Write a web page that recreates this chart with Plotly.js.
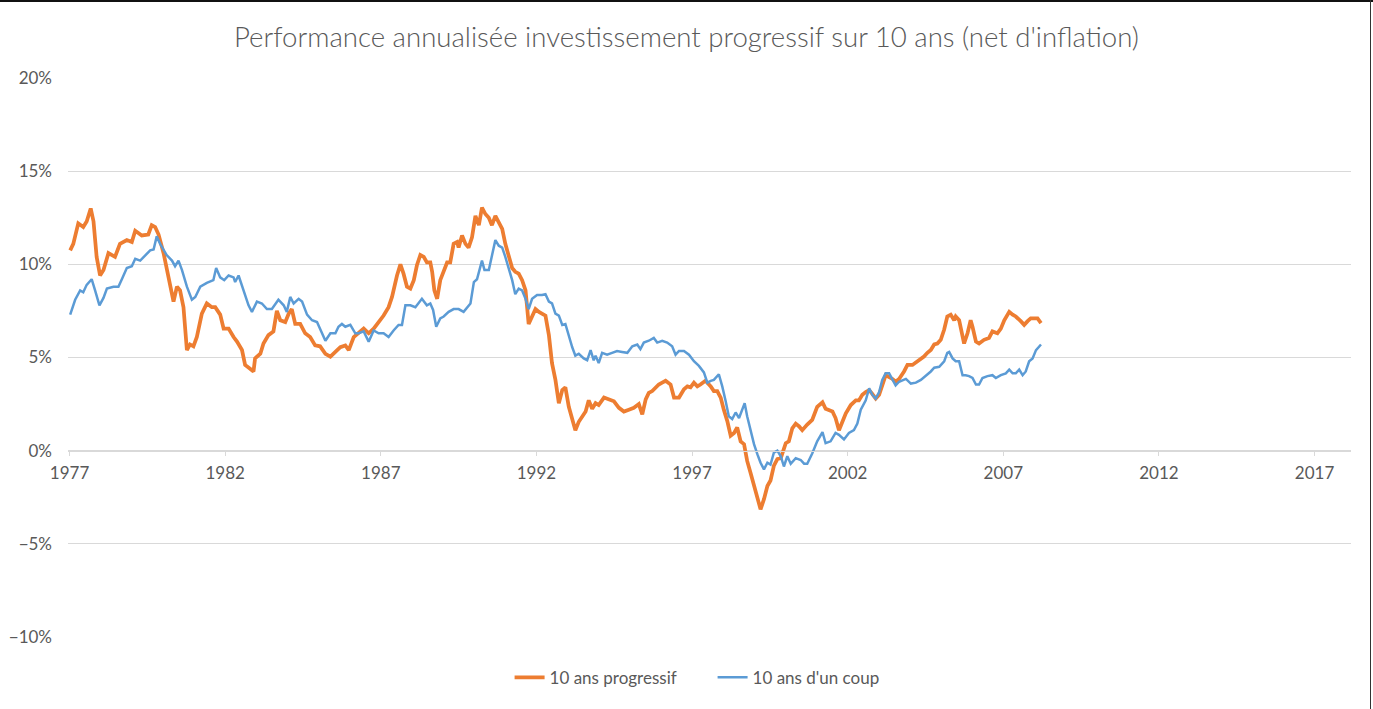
<!DOCTYPE html>
<html>
<head>
<meta charset="utf-8">
<script src="https://cdn.plot.ly/plotly-3.0.1.min.js"></script>
<style>
  body { margin: 0; background: #fff; }
  #myDiv { width: 1373px; height: 709px; }
  .edge-top { position: absolute; left: 0; top: 0; width: 1373px; height: 2px; background: #111; }
  .edge-right { position: absolute; left: 1370px; top: 0; width: 1px; height: 709px; background: #333; }
</style>
</head>
<body>
<div id="myDiv"></div>
<div class="edge-top"></div>
<div class="edge-right"></div>
<script>
// 10 ans progressif (orange)
var progYears = [
  1977.02,1977.12,1977.28,1977.44,1977.55,1977.68,1977.77,1977.87,1977.98,1978.09,
  1978.25,1978.46,1978.62,1978.84,1979.00,1979.11,1979.32,1979.53,1979.64,1979.75,
  1979.86,1980.02,1980.18,1980.34,1980.45,1980.55,1980.66,1980.77,1980.87,1980.98,
  1981.09,1981.25,1981.41,1981.57,1981.68,1981.84,1981.95,1982.11,1982.27,1982.38,
  1982.54,1982.64,1982.80,1982.91,1982.96,1983.13,1983.23,1983.39,1983.55,1983.66,
  1983.77,1983.93,1984.04,1984.14,1984.25,1984.41,1984.57,1984.73,1984.89,1985.05,
  1985.22,1985.38,1985.54,1985.70,1985.86,1985.97,1986.13,1986.29,1986.45,1986.61,
  1986.77,1986.93,1987.09,1987.25,1987.36,1987.52,1987.63,1987.73,1987.84,1987.95,
  1988.06,1988.16,1988.27,1988.38,1988.48,1988.59,1988.65,1988.72,1988.81,1988.91,
  1989.02,1989.13,1989.23,1989.34,1989.45,1989.50,1989.61,1989.72,1989.82,1989.93,
  1990.04,1990.15,1990.25,1990.36,1990.47,1990.57,1990.68,1990.79,1990.90,1991.00,
  1991.11,1991.22,1991.32,1991.43,1991.54,1991.65,1991.75,1991.86,1991.97,1992.08,
  1992.18,1992.29,1992.40,1992.50,1992.61,1992.72,1992.83,1992.93,1993.04,1993.15,
  1993.25,1993.36,1993.47,1993.58,1993.68,1993.79,1993.90,1994.00,1994.17,1994.33,
  1994.49,1994.65,1994.81,1994.97,1995.13,1995.29,1995.40,1995.51,1995.61,1995.72,
  1995.83,1995.93,1996.04,1996.15,1996.31,1996.42,1996.58,1996.74,1996.85,1996.95,
  1997.06,1997.17,1997.27,1997.43,1997.60,1997.70,1997.81,1997.92,1998.02,1998.13,
  1998.24,1998.35,1998.45,1998.56,1998.67,1998.77,1998.88,1998.99,1999.10,1999.20,
  1999.31,1999.42,1999.52,1999.63,1999.74,1999.85,2000.01,2000.11,2000.22,2000.33,
  2000.44,2000.54,2000.70,2000.86,2001.02,2001.19,2001.29,2001.40,2001.51,2001.61,
  2001.72,2001.83,2001.94,2002.10,2002.26,2002.36,2002.47,2002.58,2002.69,2002.79,
  2002.90,2003.01,2003.11,2003.22,2003.33,2003.44,2003.54,2003.65,2003.81,2003.92,
  2004.08,2004.24,2004.35,2004.45,2004.56,2004.67,2004.78,2004.88,2004.99,2005.10,
  2005.20,2005.31,2005.42,2005.47,2005.58,2005.63,2005.74,2005.85,2005.95,2006.01,
  2006.12,2006.22,2006.38,2006.54,2006.65,2006.81,2006.92,2007.03,2007.19,2007.30,
  2007.40,2007.56,2007.67,2007.78,2007.88,2007.99,2008.10,2008.21
];
var progValues = [
  10.75,11.1,12.2,12.0,12.3,13.0,12.3,10.4,9.4,9.7,
  10.6,10.4,11.1,11.3,11.2,11.8,11.55,11.6,12.1,12.0,
  11.6,10.6,9.3,8.0,8.8,8.6,7.7,5.4,5.7,5.6,
  6.1,7.35,7.9,7.7,7.7,7.3,6.55,6.55,6.1,5.85,
  5.4,4.6,4.4,4.25,4.95,5.2,5.75,6.2,6.4,7.5,
  7.0,6.9,7.35,7.6,6.8,6.8,6.3,6.1,5.65,5.6,
  5.2,5.05,5.3,5.55,5.65,5.4,6.1,6.3,6.55,6.3,
  6.55,6.9,7.25,7.7,8.25,9.4,10.0,9.5,8.8,8.7,
  9.15,9.95,10.5,10.4,10.1,10.1,9.6,8.6,8.15,9.15,
  9.7,10.1,10.1,11.1,11.2,10.9,11.55,11.1,10.9,11.45,
  12.6,12.1,13.05,12.7,12.5,12.1,12.6,12.25,11.9,11.1,
  10.5,9.8,9.6,9.5,9.15,8.6,6.8,7.2,7.6,7.45,
  7.35,7.25,6.2,4.7,3.8,2.55,3.25,3.4,2.35,1.65,
  1.1,1.55,1.8,2.1,2.7,2.25,2.55,2.45,2.85,2.75,
  2.65,2.3,2.1,2.2,2.3,2.5,1.95,2.75,3.1,3.2,
  3.4,3.55,3.65,3.75,3.55,2.85,2.85,3.3,3.45,3.4,
  3.65,3.45,3.55,3.75,3.45,3.2,3.2,2.85,2.2,1.6,
  0.8,0.95,1.25,0.5,0.35,-0.55,-1.2,-1.9,-2.45,-3.15,
  -2.6,-1.9,-1.6,-0.8,-0.45,-0.4,0.4,0.5,1.2,1.45,
  1.3,1.1,1.4,1.65,2.35,2.6,2.25,2.2,2.1,1.75,
  1.1,1.55,2.0,2.45,2.7,2.7,3.0,3.15,3.25,3.05,
  2.8,3.0,3.45,4.05,3.95,3.85,3.7,3.85,4.25,4.6,
  4.6,4.8,4.9,5.05,5.25,5.4,5.7,5.75,5.95,6.5,
  7.2,7.3,7.0,7.2,7.0,6.65,5.75,6.3,7.0,6.65,
  5.85,5.75,5.95,6.05,6.4,6.3,6.55,7.0,7.45,7.3,
  7.2,6.95,6.75,6.95,7.1,7.1,7.1,6.85
];

// 10 ans d'un coup (bleu)
var coupYears = [
  1977.02,1977.18,1977.34,1977.44,1977.55,1977.71,1977.82,1977.96,1978.09,1978.20,
  1978.41,1978.57,1978.68,1978.84,1979.00,1979.11,1979.27,1979.43,1979.59,1979.70,
  1979.80,1979.91,1980.02,1980.12,1980.29,1980.39,1980.50,1980.61,1980.77,1980.93,
  1981.04,1981.20,1981.41,1981.62,1981.71,1981.84,1981.97,1982.11,1982.27,1982.32,
  1982.43,1982.59,1982.75,1982.86,1983.02,1983.18,1983.34,1983.50,1983.71,1983.88,
  1983.98,1984.09,1984.20,1984.36,1984.47,1984.63,1984.79,1984.95,1985.11,1985.22,
  1985.38,1985.54,1985.64,1985.75,1985.86,1986.02,1986.18,1986.29,1986.45,1986.61,
  1986.77,1986.93,1987.09,1987.25,1987.41,1987.57,1987.68,1987.79,1987.95,1988.11,
  1988.32,1988.48,1988.59,1988.68,1988.78,1988.91,1989.02,1989.18,1989.34,1989.50,
  1989.66,1989.77,1989.88,1989.99,1990.09,1990.25,1990.33,1990.47,1990.57,1990.68,
  1990.79,1990.90,1991.00,1991.11,1991.22,1991.32,1991.43,1991.54,1991.65,1991.75,
  1991.86,1992.02,1992.18,1992.29,1992.40,1992.50,1992.61,1992.72,1992.83,1992.93,
  1993.04,1993.15,1993.25,1993.36,1993.52,1993.63,1993.74,1993.84,1993.90,1994.00,
  1994.11,1994.27,1994.43,1994.59,1994.75,1994.92,1995.08,1995.24,1995.34,1995.45,
  1995.61,1995.77,1995.88,1996.04,1996.20,1996.36,1996.47,1996.58,1996.74,1996.90,
  1997.06,1997.22,1997.38,1997.49,1997.60,1997.70,1997.86,1997.97,1998.08,1998.18,
  1998.29,1998.40,1998.51,1998.61,1998.69,1998.77,1998.88,1998.99,1999.10,1999.20,
  1999.31,1999.42,1999.52,1999.63,1999.74,1999.85,1999.95,2000.06,2000.17,2000.33,
  2000.49,2000.60,2000.70,2000.86,2001.02,2001.19,2001.29,2001.45,2001.61,2001.72,
  2001.88,2002.04,2002.20,2002.31,2002.42,2002.58,2002.69,2002.79,2002.90,2003.01,
  2003.11,2003.22,2003.33,2003.44,2003.54,2003.65,2003.87,2004.03,2004.19,2004.35,
  2004.51,2004.67,2004.78,2004.94,2005.10,2005.20,2005.26,2005.37,2005.47,2005.58,
  2005.69,2005.79,2005.90,2006.01,2006.12,2006.22,2006.33,2006.49,2006.65,2006.76,
  2006.92,2007.08,2007.19,2007.30,2007.40,2007.51,2007.62,2007.72,2007.83,2007.94,
  2008.05,2008.21
];
var coupValues = [
  7.3,8.1,8.6,8.5,8.9,9.2,8.6,7.8,8.2,8.7,
  8.8,8.8,9.2,9.8,9.9,10.3,10.2,10.5,10.75,10.8,
  11.5,11.1,10.8,10.5,10.2,9.9,10.2,9.7,8.8,8.1,
  8.25,8.8,9.0,9.15,9.8,9.3,9.15,9.4,9.3,9.05,
  9.4,8.6,7.8,7.45,8.0,7.9,7.6,7.6,8.1,7.8,
  7.45,8.25,7.9,8.15,8.0,7.3,7.0,6.9,6.3,5.9,
  6.3,6.3,6.65,6.8,6.65,6.75,6.3,6.3,6.4,5.85,
  6.45,6.3,6.3,6.1,6.45,6.75,6.75,7.8,7.8,7.7,
  8.15,7.8,7.9,7.55,6.65,7.1,7.2,7.45,7.6,7.6,
  7.45,7.7,7.9,9.05,9.2,10.2,9.7,9.7,10.5,11.3,
  11.0,10.9,10.4,9.75,9.15,8.4,8.7,8.6,8.15,7.6,
  8.15,8.35,8.35,8.4,8.0,7.9,7.35,7.25,6.75,6.8,
  6.1,5.55,5.1,5.2,4.95,4.85,5.4,4.85,5.1,4.7,
  5.25,5.15,5.25,5.35,5.3,5.25,5.6,5.7,5.45,5.8,
  5.9,6.05,5.8,5.9,5.8,5.6,5.15,5.35,5.35,5.15,
  4.8,4.55,4.2,3.65,3.75,3.8,4.1,3.45,2.65,1.85,
  1.7,2.05,1.75,2.2,2.55,1.85,1.05,0.35,-0.2,-0.65,
  -1.0,-0.65,-0.75,-0.1,0.0,-0.3,-0.85,-0.3,-0.7,-0.4,
  -0.5,-0.7,-0.7,-0.15,0.5,1.0,0.4,0.5,0.95,0.85,
  0.6,0.95,1.1,1.45,2.2,2.7,3.35,3.0,2.8,3.15,
  3.8,4.15,4.15,3.85,3.5,3.7,3.85,3.6,3.65,3.8,
  4.0,4.25,4.45,4.5,4.8,5.25,5.3,4.95,4.8,4.8,
  4.05,4.05,4.0,3.9,3.55,3.55,3.9,4.0,4.05,3.9,
  4.05,4.15,4.35,4.15,4.15,4.35,4.05,4.25,4.8,4.95,
  5.4,5.7
];

var FONT = 'Lato, "Open Sans", sans-serif';
var GREY = '#595959';

var trace1 = {
  x: progYears,
  y: progValues,
  type: 'scatter',
  mode: 'lines',
  name: '10 ans progressif',
  line: { color: '#ED7D31', width: 3.75 }
};

var trace2 = {
  x: coupYears,
  y: coupValues,
  type: 'scatter',
  mode: 'lines',
  name: "10 ans d'un coup",
  line: { color: '#5B9BD5', width: 2.5 }
};

var data = [trace1, trace2];

var layout = {
  width: 1373,
  height: 709,
  margin: { l: 68, r: 22, t: 78, b: 72 },
  paper_bgcolor: '#fff',
  plot_bgcolor: '#fff',
  font: { family: FONT, color: GREY, size: 17 },
  title: {
    text: "Performance annualisée investissement progressif sur 10 ans (net d'inflation)",
    font: { family: FONT, size: 27.6, color: GREY, weight: 300 },
    xref: 'container', x: 0.5, xanchor: 'center',
    yref: 'container', y: 0.948, yanchor: 'middle'
  },
  xaxis: {
    range: [1976.95, 2018.17],
    tick0: 1977,
    dtick: 5,
    tickformat: 'd',
    anchor: 'free',
    position: 1 / 3,
    showgrid: false,
    zeroline: false,
    showline: true,
    linecolor: '#D9D9D9',
    linewidth: 1,
    ticks: 'outside',
    ticklen: 4,
    tickcolor: '#D9D9D9',
    ticklabelstandoff: 3,
    tickfont: { family: FONT, size: 17, color: GREY }
  },
  yaxis: {
    range: [-10, 20],
    dtick: 5,
    ticksuffix: '%',
    showgrid: true,
    gridcolor: '#D9D9D9',
    gridwidth: 1,
    zeroline: false,
    showline: false,
    ticks: '',
    ticklabelstandoff: 15,
    tickfont: { family: FONT, size: 17, color: GREY }
  },
  showlegend: true,
  legend: {
    orientation: 'h',
    xref: 'container', x: 0.519, xanchor: 'center',
    yref: 'container', y: 0.044, yanchor: 'middle',
    font: { family: FONT, size: 17, color: GREY },
    entrywidth: 158,
    entrywidthmode: 'pixels'
  },
  hovermode: false
};

Plotly.newPlot('myDiv', data, layout, { displayModeBar: false, staticPlot: true });
</script>
</body>
</html>
